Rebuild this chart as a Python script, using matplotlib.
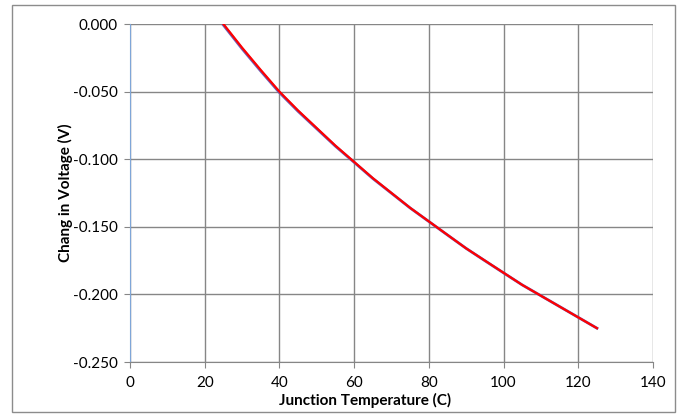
import matplotlib
matplotlib.use("Agg")
import matplotlib.pyplot as plt
from matplotlib.patches import Rectangle

plt.rcParams['font.family'] = ['Lato', 'DejaVu Sans']

# junction temperature (C) and change in forward voltage (V)
temp = [25, 30, 35, 40, 45, 50, 55, 60, 65, 70, 75, 80, 85, 90, 95, 100,
        105, 110, 115, 120, 125]
volt_calc = [0.0, -0.0175, -0.034, -0.050, -0.064, -0.077, -0.090, -0.102,
             -0.114, -0.125, -0.136, -0.146, -0.156, -0.166, -0.175, -0.184,
             -0.193, -0.201, -0.209, -0.217, -0.225]
volt_fit = [-0.0008, -0.0183, -0.0348, -0.0507, -0.0646, -0.0775, -0.0904,
            -0.1023, -0.1143, -0.1252, -0.1361, -0.1461, -0.1561, -0.166,
            -0.1751, -0.1841, -0.193, -0.201, -0.209, -0.217, -0.225]

fig = plt.figure(figsize=(6.83, 4.15), dpi=100)
ax = fig.add_axes([130/683, 53/415, 523/683, 338/415])

# outer chart border
fig.patches.append(Rectangle((12/683, 3/415), 663/683, 407/415, transform=fig.transFigure,
                             fill=False, edgecolor='#8c8c8c', linewidth=1.0))

ax.plot(temp, volt_fit, color='#6a5fb8', linewidth=2.0)
ax.plot(temp, volt_calc, color='#ff0000', linewidth=1.6)

ax.set_xlim(0, 140)
ax.set_ylim(-0.25, 0.0)
ax.set_xticks(range(0, 141, 20))
ax.set_yticks([0.0, -0.05, -0.1, -0.15, -0.2, -0.25])
ax.set_yticklabels(['0.000', '-0.050', '-0.100', '-0.150', '-0.200', '-0.250'])
ax.grid(True, color='#868686', linewidth=1.0)
ax.set_axisbelow(True)

for s in ['top', 'right']:
    ax.spines[s].set_visible(False)
ax.spines['bottom'].set_color('#868686')
ax.spines['left'].set_color('#7fa6d8')
ax.tick_params(axis='both', labelsize=11, colors='#868686', labelcolor='black', length=4)
ax.tick_params(axis='x', pad=6)
ax.tick_params(axis='y', pad=5)

ax.set_xlabel('Junction Temperature (C)', fontsize=11, fontweight='bold')
ax.set_ylabel('Chang in Voltage (V)', fontsize=11, fontweight='bold')
ax.xaxis.set_label_coords((365 - 130) / 523, -(400 - 362) / 338)
ax.yaxis.set_label_coords(-(130 - 65) / 523, 0.5)
ax.xaxis.label.set_va('center')
ax.yaxis.label.set_va('center')

fig.savefig('out.png', dpi=100)
